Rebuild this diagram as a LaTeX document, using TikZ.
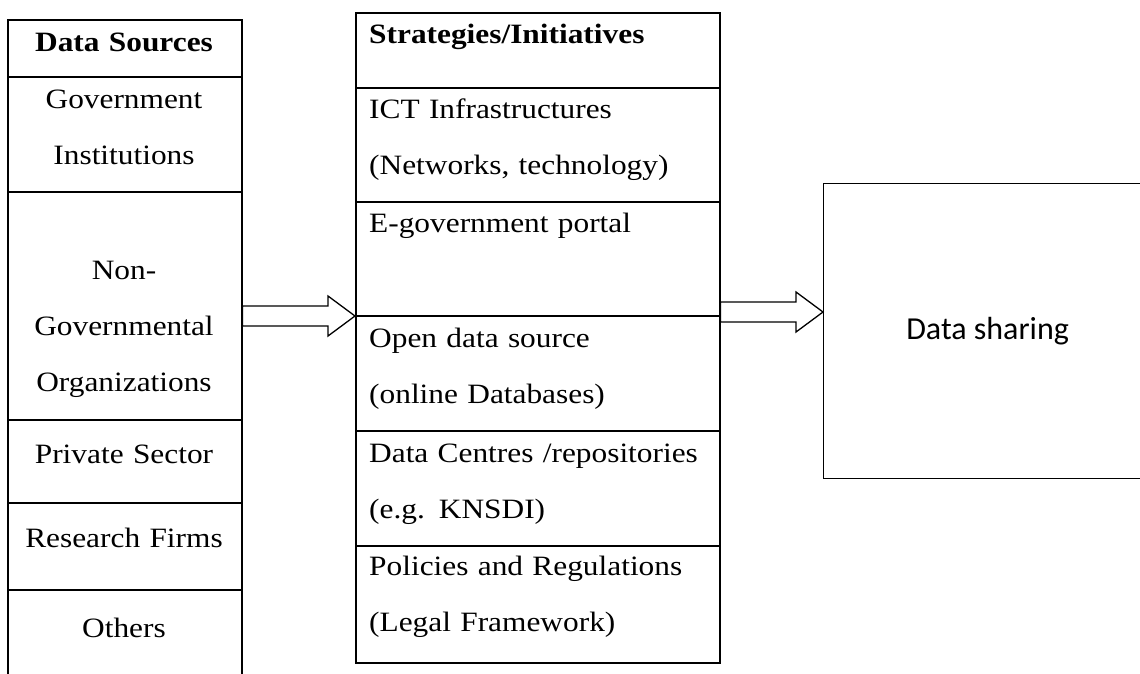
\documentclass[tikz,border=0pt]{standalone}
\usepackage{fontspec}
\setmainfont[FakeStretch=1.12]{Liberation Serif}
\newfontfamily\sharefont{Carlito}
\usetikzlibrary{calc}

\tikzset{
  column/.style={draw, line width=1.5pt, anchor=north west, inner sep=0pt},
  sep/.style={line width=1.5pt},
  srctext/.style={anchor=base, text width=230pt, align=center, inner sep=0pt},
  strattext/.style={anchor=base west, text width=345pt, align=left, inner sep=0pt},
  fatarrow/.style={draw, fill=white, line width=1.3pt, line join=miter},
}

\newcommand{\fatarrow}[2]{%
  \draw[fatarrow] let \p1=(#1), \p2=(#2) in
    (\x1,{\y1+10pt}) -- ({\x2-27pt},{\y1+10pt}) -- ({\x2-27pt},{\y1+20pt})
    -- (\x2,\y1) -- ({\x2-27pt},{\y1-20pt}) -- ({\x2-27pt},{\y1-10pt})
    -- (\x1,{\y1-10pt}) -- cycle;}

\begin{document}
\begin{tikzpicture}[x=1pt, y=-1pt, font=\fontsize{28}{56}\selectfont]
        \useasboundingbox (0,0) rectangle (1140,673);
        \clip (0,0) rectangle (1140,673);
        \fill[white] (0,0) rectangle (1140,673);

        \node[column, minimum width=234pt, minimum height=700pt] (src) at (7,19) {};
        \foreach \y in {77,192,420,503,590}
            \draw[sep] (src.west |- 0,\y) -- (src.east |- 0,\y);
        \node[srctext] (srchead) at (124,51) {\textbf{Data Sources}};
        \node[srctext] (gov) at (124,108) {Government\\Institutions};
        \node[srctext] (ngo) at (124,279) {Non-\\Governmental\\Organizations};
        \node[srctext] (priv) at (124,463) {Private Sector};
        \node[srctext] (research) at (124,547) {Research Firms};
        \node[srctext] (others) at (124,637) {Others};

        \node[column, minimum width=364pt, minimum height=650pt] (strat) at (355,12) {};
        \foreach \y in {88,202,316,431,546}
            \draw[sep] (strat.west |- 0,\y) -- (strat.east |- 0,\y);
        \node[strattext] (strathead) at (369,43) {\textbf{Strategies/Initiatives}};
        \node[strattext] (ict) at (369,118) {ICT Infrastructures\\(Networks, technology)};
        \node[strattext] (egov) at (369,232) {E-government portal};
        \node[strattext] (opendata) at (369,347) {Open data source\\(online Databases)};
        \node[strattext] (centres) at (369,462) {Data Centres /repositories\\(e.g. KNSDI)};
        \node[strattext] (policies) at (369,575) {Policies and Regulations\\(Legal Framework)};

        \node[column, line width=1.2pt, minimum width=328pt, minimum height=295pt,
              font=\sharefont\fontsize{32}{38}\selectfont] (share) at (823,183) {Data sharing};

        \coordinate (a1) at (0,316);
        \coordinate (a2) at (0,312);
        \fatarrow{src.east |- a1}{strat.west |- a1}
        \fatarrow{strat.east |- a2}{share.west |- a2}
    \end{tikzpicture}
\end{document}
